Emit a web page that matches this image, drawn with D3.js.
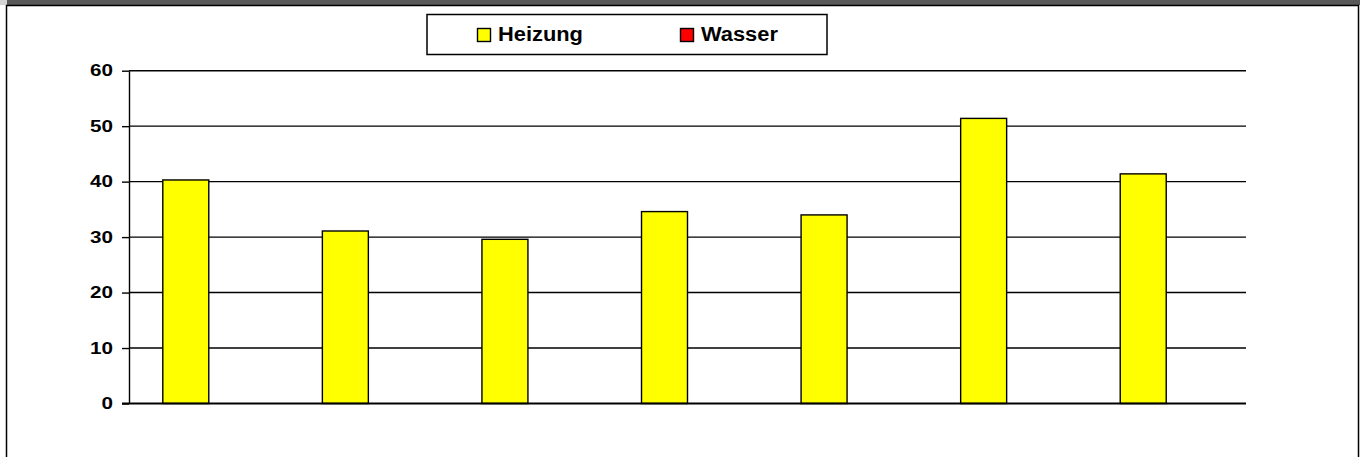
<!DOCTYPE html>
<html>
<head>
<meta charset="utf-8">
<script src="https://cdn.jsdelivr.net/npm/d3@7"></script>
<style>
  html, body { margin: 0; padding: 0; background: #fff; }
  svg { display: block; }
  text { font-family: "Liberation Sans", Arial, sans-serif; font-weight: bold; fill: #000; }
</style>
</head>
<body>
<svg id="chart" width="1362" height="457"></svg>
<script>
// ---- data ----
const categories = ["1", "2", "3", "4", "5", "6", "7"];
const seriesNames = ["Heizung", "Wasser"];
const seriesColors = ["#ffff00", "#ff0000"];
const heizung = [40.3, 31.1, 29.6, 34.6, 34.0, 51.4, 41.4];
const wasser = [null, null, null, null, null, null, null];
const yTicks = [0, 10, 20, 30, 40, 50, 60];

const svg = d3.select("#chart");

// frame
svg.append("rect").attr("x", 0).attr("y", 0).attr("width", 7).attr("height", 5).attr("fill", "#d4d4d4");
svg.append("rect").attr("x", 7).attr("y", 0).attr("width", 1353).attr("height", 5).attr("fill", "#595959");
svg.append("rect").attr("x", 6.5).attr("y", 5.5).attr("width", 1352).attr("height", 470)
  .attr("fill", "#fff").attr("stroke", "#000").attr("stroke-width", 1.5);

const plot = { left: 129, right: 1246, top: 70.7, bottom: 403.5 };

const x = d3.scaleBand().domain(categories).range([plot.left, plot.right])
  .paddingInner(0.4236).paddingOuter(0.2118);
const xs = d3.scaleBand().domain(seriesNames).range([0, x.bandwidth()]);
const y = d3.scaleLinear().domain([0, 60]).range([plot.bottom, plot.top]);

// gridlines
svg.append("g").selectAll("line").data(yTicks.filter(d => d > 0)).join("line")
  .attr("x1", plot.left).attr("x2", plot.right)
  .attr("y1", d => y(d)).attr("y2", d => y(d))
  .attr("stroke", "#000").attr("stroke-width", 1.4);

// bars
const series = [heizung, wasser];
series.forEach((vals, si) => {
  svg.append("g").selectAll("rect")
    .data(categories.map((c, i) => ({ c, v: vals[i] })).filter(d => d.v != null))
    .join("rect")
    .attr("x", d => x(d.c) + xs(seriesNames[si]))
    .attr("y", d => y(d.v))
    .attr("width", xs.bandwidth())
    .attr("height", d => y(0) - y(d.v))
    .attr("fill", seriesColors[si])
    .attr("stroke", "#000").attr("stroke-width", 1.4);
});

// y axis
const yAxis = svg.append("g").attr("transform", `translate(${plot.left},0)`)
  .call(d3.axisLeft(y).tickValues(yTicks).tickSize(7).tickPadding(9).tickSizeOuter(0));
yAxis.select(".domain").attr("stroke", "#000").attr("stroke-width", 1.4);
yAxis.selectAll(".tick line").attr("stroke", "#000").attr("stroke-width", 1.4);
yAxis.selectAll(".tick text").attr("font-size", 16.5).attr("font-family", null)
  .style("font-family", "'Liberation Sans', Arial, sans-serif").style("font-weight", "bold")
  .each(function () {
    const len = this.getComputedTextLength();
    d3.select(this).attr("textLength", len * 1.25).attr("lengthAdjust", "spacingAndGlyphs");
  });

// baseline
svg.append("line").attr("x1", plot.left - 7).attr("x2", plot.right)
  .attr("y1", y(0)).attr("y2", y(0)).attr("stroke", "#000").attr("stroke-width", 2);

// legend
const lg = svg.append("g");
lg.append("rect").attr("x", 427).attr("y", 14.5).attr("width", 400).attr("height", 40)
  .attr("fill", "#fff").attr("stroke", "#000").attr("stroke-width", 1.5);
const legendX = [477.5, 680.5];
seriesNames.forEach((n, i) => {
  lg.append("rect").attr("x", legendX[i]).attr("y", 28.5).attr("width", 13).attr("height", 13)
    .attr("fill", seriesColors[i]).attr("stroke", "#000").attr("stroke-width", 1.4);
  lg.append("text").attr("x", legendX[i] + 20.5).attr("y", 41)
    .attr("font-size", 19.5).text(n)
    .each(function () {
      const len = this.getComputedTextLength();
      d3.select(this).attr("textLength", len * 1.12).attr("lengthAdjust", "spacingAndGlyphs");
    });
});
</script>
</body>
</html>
